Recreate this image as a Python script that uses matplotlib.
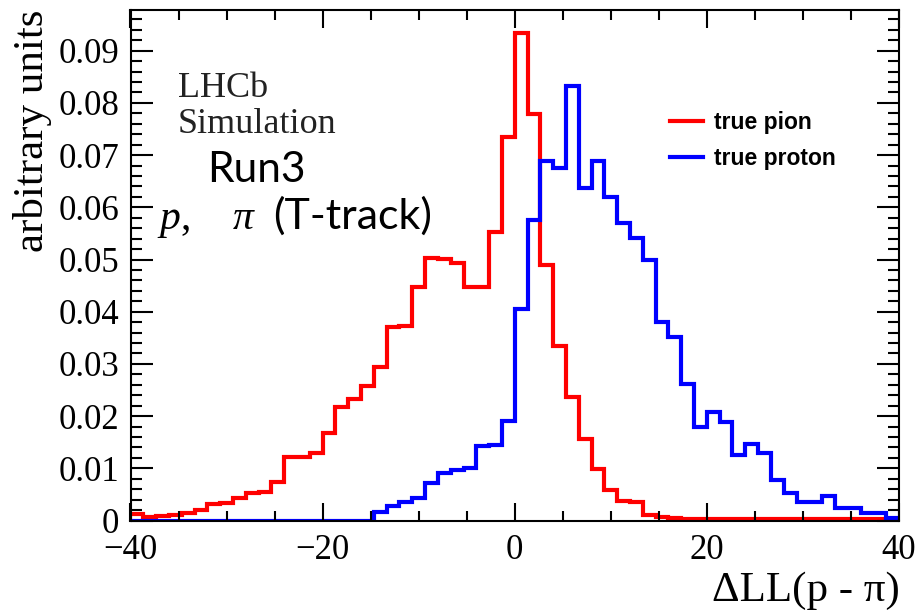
import matplotlib
matplotlib.use("Agg")
import matplotlib.pyplot as plt
import numpy as np
from matplotlib.ticker import MultipleLocator, FuncFormatter

plt.rcParams.update({"font.family": "Liberation Serif", "mathtext.fontset": "custom",
                     "mathtext.it": "Liberation Serif:italic"})

# histogram: 60 bins from -40 to 40
bin_edges = np.linspace(-40, 40, 61)

true_pion = [0.0013, 0.0006, 0.0008, 0.0010, 0.0015, 0.0021, 0.0031, 0.0034, 0.0043, 0.0052,
             0.0055, 0.0074, 0.0122, 0.0121, 0.0129, 0.0168, 0.0217, 0.0232, 0.0258, 0.0294,
             0.0371, 0.0372, 0.0448, 0.0503, 0.0501, 0.0494, 0.0448, 0.0447, 0.0552, 0.0734,
             0.0933, 0.0778, 0.0490, 0.0334, 0.0237, 0.0156, 0.0098, 0.0058, 0.0037, 0.0036,
             0.0011, 0.0006, 0.0004, 0.0003, 0.0002, 0.0002, 0.0002, 0.0002, 0.0002, 0.0002,
             0.0002, 0.0002, 0.0002, 0.0002, 0.0002, 0.0002, 0.0002, 0.0002, 0.0002, 0.0001]

true_proton = [0, 0, 0, 0, 0, 0, 0, 0, 0, 0,
               0, 0, 0, 0, 0, 0, 0, 0, 0, 0.0016,
               0.0027, 0.0035, 0.0043, 0.0071, 0.0091, 0.0096, 0.0101, 0.0143, 0.0145, 0.0190,
               0.0405, 0.0576, 0.0688, 0.0676, 0.0833, 0.0637, 0.0689, 0.0619, 0.0570, 0.0541,
               0.0499, 0.0381, 0.0351, 0.0262, 0.0180, 0.0207, 0.0189, 0.0125, 0.0147, 0.0129,
               0.0078, 0.0052, 0.0036, 0.0036, 0.0046, 0.0023, 0.0023, 0.0014, 0.0014, 0.0004]

labels = ["true pion", "true proton"]

W, H = 918, 613
fig = plt.figure(figsize=(W / 100, H / 100), dpi=100)
ax = fig.add_axes([130.5 / W, 1 - 520.5 / H, (899 - 130.5) / W, (520.5 - 10) / H])

ax.stairs(true_pion, bin_edges, color="#ff0000", lw=3, label=labels[0])
ax.stairs(true_proton, bin_edges, color="#0000ff", lw=3, label=labels[1])

ax.set_xlim(-40, 40)
ax.set_ylim(0, 0.0978)
ax.xaxis.set_major_locator(MultipleLocator(20))
ax.xaxis.set_minor_locator(MultipleLocator(5))
ax.yaxis.set_major_locator(MultipleLocator(0.01))
ax.yaxis.set_minor_locator(MultipleLocator(0.002))
ax.yaxis.set_major_formatter(FuncFormatter(lambda v, p: "0" if abs(v) < 1e-9 else f"{v:.2f}"))
ax.xaxis.set_major_formatter(FuncFormatter(lambda v, p: f"{v:.0f}".replace("-", "\u2212")))
ax.tick_params(which="both", direction="in", top=True, right=True, width=1.5, labelsize=25)
ax.tick_params(axis="y", which="major", length=16, pad=8)
ax.tick_params(axis="y", which="minor", length=8)
ax.tick_params(axis="x", which="major", length=13, pad=10)
ax.tick_params(axis="x", which="minor", length=7)
for s in ax.spines.values():
    s.set_linewidth(1.5)

ax.set_ylabel("arbitrary units", fontsize=31, loc="top", labelpad=5)
fig.text(900 / W, 1 - 601 / H, "\u0394LL(p - \u03c0)", fontsize=31, ha="right", va="baseline")

ax.legend(loc="upper left", bbox_to_anchor=(670 / W, 1 - 111 / H), bbox_transform=fig.transFigure,
          frameon=False, prop={"family": "Liberation Sans", "weight": "bold", "size": 16.5},
          handlelength=1.45, handletextpad=0.45, labelspacing=0.55, borderpad=0, borderaxespad=0)

fig.text(178 / W, 1 - 97 / H, "LHCb", fontsize=26, color="#222222", va="baseline")
fig.text(178 / W, 1 - 133 / H, "Simulation", fontsize=26, color="#222222", va="baseline")
fig.text(207 / W, 1 - 182 / H, "Run3", fontsize=30.5, family="Lato", va="baseline")
fig.text(157 / W, 1 - 229 / H, "$p$,", fontsize=30, va="baseline")
fig.text(232 / W, 1 - 229 / H, "$\\pi$", fontsize=30, va="baseline")
fig.text(273 / W, 1 - 229 / H, "(T-track)", fontsize=31, family="Lato", va="baseline")

fig.savefig("out.png", dpi=100)
